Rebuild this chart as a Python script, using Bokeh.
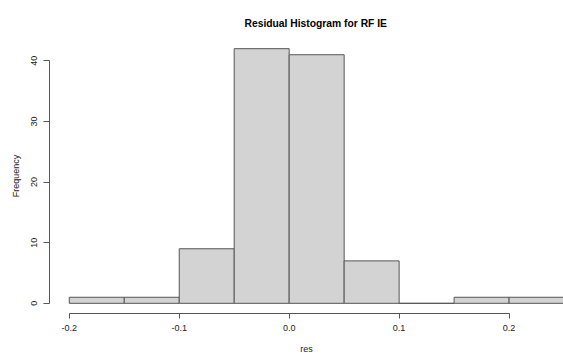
from bokeh.plotting import figure
from bokeh.models import FixedTicker, Range1d, ColumnDataSource
from bokeh.embed import file_html
from bokeh.resources import INLINE

# Data
bin_left = [-0.20, -0.15, -0.10, -0.05, 0.00, 0.05, 0.10, 0.15, 0.20]
bin_right = [-0.15, -0.10, -0.05, 0.00, 0.05, 0.10, 0.15, 0.20, 0.25]
counts = [1, 1, 9, 42, 41, 7, 0, 1, 1]
x_ticks = [-0.2, -0.1, 0.0, 0.1, 0.2]
x_tick_labels = ["-0.2", "-0.1", "0.0", "0.1", "0.2"]
y_ticks = [0, 10, 20, 30, 40]
y_tick_labels = ["0", "10", "20", "30", "40"]

FONT = "Liberation Sans"
LINE = "#555555"
TEXT = "#222222"

src = ColumnDataSource(dict(left=bin_left, right=bin_right, top=counts,
                            bottom=[0] * len(counts)))

p = figure(width=563, height=356, output_backend="svg", toolbar_location=None,
           x_range=Range1d(-0.218, 0.2495), y_range=Range1d(-1.68, 43.68),
           min_border_left=49, min_border_right=0, min_border_top=38,
           min_border_bottom=43, title="Residual Histogram for RF IE")

p.quad(left="left", right="right", top="top", bottom="bottom", source=src,
       fill_color="#D3D3D3", line_color=LINE, line_width=1)

p.title.align = "left"
p.title.text_font = FONT
p.title.text_font_size = "10.3px"
p.title.text_font_style = "bold"
p.title.text_color = "#000000"
p.title.offset = 195
p.title.standoff = 19

p.xgrid.visible = False
p.ygrid.visible = False
p.outline_line_color = None
p.background_fill_color = "white"
p.border_fill_color = "white"

for ax in (p.xaxis[0], p.yaxis[0]):
    ax.axis_line_color = LINE
    ax.major_tick_line_color = LINE
    ax.minor_tick_line_color = None
    ax.major_tick_in = 0
    ax.major_tick_out = 5
    ax.major_label_text_font = FONT
    ax.major_label_text_font_size = "9px"
    ax.major_label_text_color = TEXT
    ax.axis_label_text_font = FONT
    ax.axis_label_text_font_size = "9px"
    ax.axis_label_text_font_style = "normal"
    ax.axis_label_text_color = TEXT

xa = p.xaxis[0]
xa.ticker = FixedTicker(ticks=x_ticks)
xa.major_label_overrides = dict(zip(x_ticks, x_tick_labels))
xa.bounds = (x_ticks[0], x_ticks[-1])
xa.axis_label = "res"
xa.major_label_standoff = 6
xa.axis_label_standoff = 10

ya = p.yaxis[0]
ya.ticker = FixedTicker(ticks=y_ticks)
ya.major_label_overrides = dict(zip(y_ticks, y_tick_labels))
ya.bounds = (y_ticks[0], y_ticks[-1])
ya.axis_label = "Frequency"
ya.major_label_orientation = "vertical"
ya.major_tick_out = 6
ya.major_label_standoff = 6
ya.axis_label_standoff = 8

open("out.html", "w").write(file_html(p, INLINE))
